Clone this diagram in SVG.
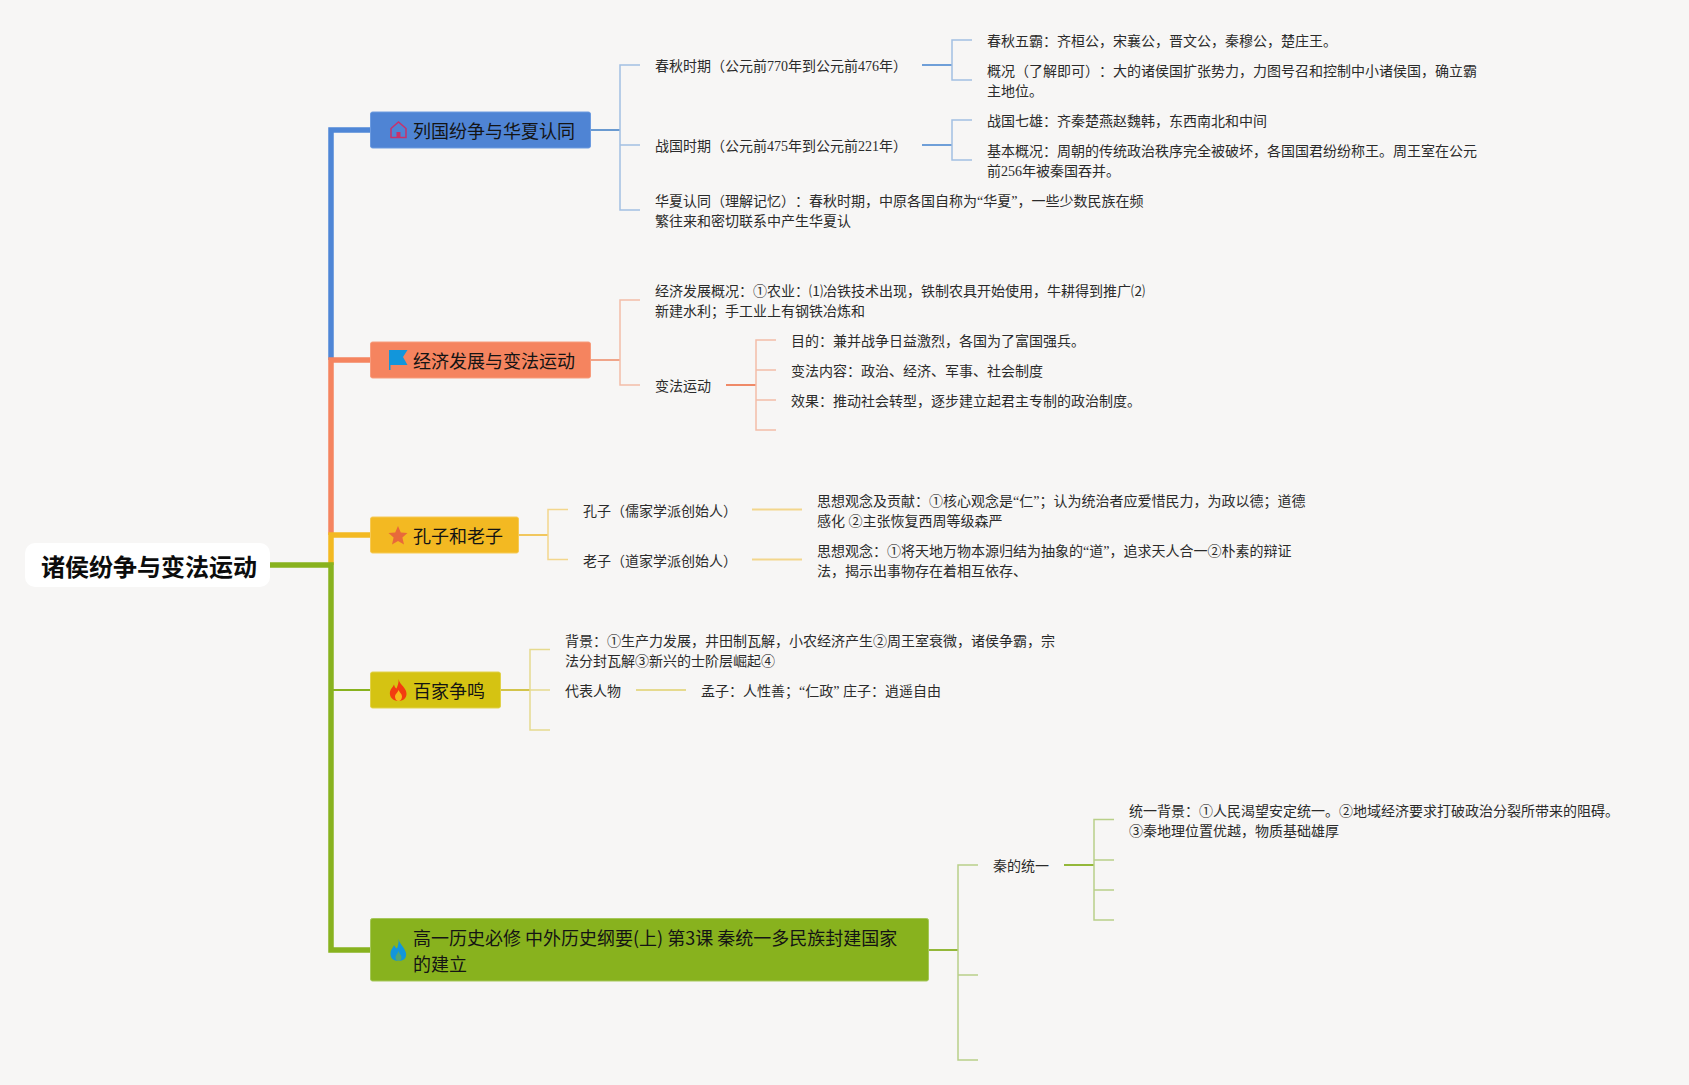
<svg xmlns="http://www.w3.org/2000/svg" width="1689" height="1085" viewBox="0 0 1689 1085">
<style>
text{font-family:"Liberation Serif","Noto Sans CJK SC",serif;fill:#2b2b2b;font-size:14px;text-spacing-trim:space-all}
.n{font-family:"Noto Sans CJK SC","Noto Sans",sans-serif;font-size:18px;fill:#141414}
.r{font-family:"Noto Sans CJK SC","Noto Sans",sans-serif;font-size:24px;font-weight:700;fill:#0c0c0c}
.c{fill:none;stroke-linejoin:miter}
.t{stroke-width:5.5}
.b{stroke-width:2}
.s{stroke-width:1.5}
.box{stroke-width:1}
</style>
<rect width="1689" height="1085" fill="#f7f6f5"/>
<g id="connectors" class="c">
<path class="t" stroke="#4f86d6" d="M370 130H331V360"/>
<path class="t" stroke="#f5845f" d="M370 360H331V535"/>
<path class="t" stroke="#f3b922" d="M370 535H331V565"/>
<path class="t" stroke="#88b21e" d="M270 565H331V950H370"/>
<path class="t" stroke="#88b21e" d="M331 690H370" style="stroke-width:2"/>

<path class="b" stroke="#6a9ad0" d="M590 130H620"/>
<path class="s" stroke="#a3c0e2" d="M640 65H620V210H640M620 145H640"/>
<path class="b" stroke="#6f9fd8" d="M922 65H952M922 145H952"/>
<path class="s" stroke="#a3c0e2" d="M972 40H952V80H972M972 120H952V160H972"/>

<path class="b" stroke="#f0a58a" d="M590 360H620"/>
<path class="s" stroke="#f3bda8" d="M640 300H620V385H640"/>
<path class="b" stroke="#ef8a68" d="M726 385H756"/>
<path class="s" stroke="#f3bda8" d="M776 340H756V430H776M756 370H776M756 400H776"/>

<path class="b" stroke="#f1c75e" d="M518 535H548"/>
<path class="s" stroke="#f3d68c" d="M568 509.500H548V559.500H568"/>
<path class="b" stroke="#f3d68c" d="M752 509.500H802M752 559.500H802"/>

<path class="b" stroke="#d3c44a" d="M500 690H530"/>
<path class="s" stroke="#e6da8e" d="M550 649.500H530V730H550M530 690H550"/>
<path class="b" stroke="#e6da8e" d="M636 690H686"/>

<path class="b" stroke="#94b83a" d="M928 950H958"/>
<path class="s" stroke="#b9d089" d="M978 865H958V1060H978M958 975H978"/>
<path class="b" stroke="#94b83a" d="M1064 865H1094"/>
<path class="s" stroke="#b9d089" d="M1114 819.500H1094V920H1114M1094 860H1114M1094 890H1114"/>
</g>

<g id="root">
<rect x="25" y="543" width="245" height="44" rx="10" fill="#ffffff"/>
<text class="r" x="41" y="576">诸侯纷争与变法运动</text>
</g>

<g id="node-lieguo">
<rect class="box" x="370.500" y="112" width="220" height="36" rx="2" fill="#4f84d4" stroke="#6c9be0"/>
<path d="M391 128.500L398.500 122L406 128.500V137.500H391Z" fill="none" stroke="#c9316a" stroke-width="1.500"/>
<rect x="396.500" y="132" width="4" height="5.500" fill="#c9316a"/>
<text class="n" x="413" y="138">列国纷争与华夏认同</text>
</g>
<g id="node-jingji">
<rect class="box" x="370.500" y="342" width="220" height="36" rx="2" fill="#f5845f" stroke="#f79c7d"/>
<path d="M389 350H407.500L403 357L407.500 365H390.500V370H389Z" fill="#1296db"/>
<text class="n" x="413" y="368">经济发展与变法运动</text>
</g>
<g id="node-kongzi">
<rect class="box" x="370.500" y="517" width="148" height="36" rx="2" fill="#f3b922" stroke="#f6ca56"/>
<path d="M398 526L400.800 532.500L407.500 533.100L402.400 537.600L404 544.500L398 540.900L392 544.500L393.600 537.600L388.500 533.100L395.200 532.500Z" fill="#e8693a"/>
<text class="n" x="413" y="543">孔子和老子</text>
</g>
<g id="node-baijia">
<rect class="box" x="370.500" y="672" width="130" height="36" rx="2" fill="#d5c312" stroke="#e1d24a"/>
<path d="M398.500 679C399.500 684 404 686 406 691C408 697 404 701 398.500 701C393 701 389 697 390 691.500C391 688 393 687 394 684.500C394.500 687 395.500 688 396.500 688.500C397.500 686 399 683 398.500 679Z" fill="#f23c10"/>
<path d="M398.500 690C400 693 402 694 402 696.500C402 699 400.500 701 398.500 701C396.500 701 395 699 395 696.500C395 694 397.500 693 398.500 690Z" fill="#f7b91a"/>
<text class="n" x="413" y="698">百家争鸣</text>
</g>
<g id="node-gaoyi">
<rect class="box" x="370.500" y="918.500" width="558" height="62.500" rx="2" fill="#88b21e" stroke="#a5c75a"/>
<path d="M398.500 939C399.500 944 404.500 947 406 953C407 958 403.500 961 398.500 961C393.500 961 390 958 390.500 953C391 949 393 948 394 945C395 947 396 948 397 948.500C398 946 399 942 398.500 939Z" fill="#1296db"/>
<path d="M398.500 951C399.500 954 401.500 955 401.500 957.500C401.500 959.500 400 961 398.500 961C397 961 395.500 959.500 395.500 957.500C395.500 955 397.500 954 398.500 951Z" fill="#88b21e" opacity=".55"/>
<text class="n" x="413" y="945">高一历史必修 中外历史纲要(上) 第3课 秦统一多民族封建国家</text>
<text class="n" x="413" y="971">的建立</text>
</g>

<g id="t1-chunqiu"><text x="655" y="71">春秋时期（公元前770年到公元前476年）</text></g>
<g id="t1-wuba"><text x="987" y="46">春秋五霸：齐桓公，宋襄公，晋文公，秦穆公，楚庄王。</text></g>
<g id="t1-gaikuang"><text x="987" y="76">概况（了解即可）：大的诸侯国扩张势力，力图号召和控制中小诸侯国，确立霸</text><text x="987" y="96">主地位。</text></g>
<g id="t1-zhanguo"><text x="655" y="151">战国时期（公元前475年到公元前221年）</text></g>
<g id="t1-qixiong"><text x="987" y="126">战国七雄：齐秦楚燕赵魏韩，东西南北和中间</text></g>
<g id="t1-jiben"><text x="987" y="156">基本概况：周朝的传统政治秩序完全被破坏，各国国君纷纷称王。周王室在公元</text><text x="987" y="176">前256年被秦国吞并。</text></g>
<g id="t1-huaxia"><text x="655" y="206">华夏认同（理解记忆）：春秋时期，中原各国自称为“华夏”，一些少数民族在频</text><text x="655" y="226">繁往来和密切联系中产生华夏认</text></g>

<g id="t2-fazhan"><text x="655" y="296">经济发展概况：①农业：⑴冶铁技术出现，铁制农具开始使用，牛耕得到推广⑵</text><text x="655" y="316">新建水利；手工业上有钢铁冶炼和</text></g>
<g id="t2-bianfa"><text x="655" y="391">变法运动</text></g>
<g id="t2-mudi"><text x="791" y="346">目的：兼并战争日益激烈，各国为了富国强兵。</text></g>
<g id="t2-neirong"><text x="791" y="376">变法内容：政治、经济、军事、社会制度</text></g>
<g id="t2-xiaoguo"><text x="791" y="406">效果：推动社会转型，逐步建立起君主专制的政治制度。</text></g>

<g id="t3-kongzi"><text x="583" y="516">孔子（儒家学派创始人）</text></g>
<g id="t3-kongzi-d"><text x="817" y="506">思想观念及贡献：①核心观念是“仁”；认为统治者应爱惜民力，为政以德；道德</text><text x="817" y="526">感化 ②主张恢复西周等级森严</text></g>
<g id="t3-laozi"><text x="583" y="566">老子（道家学派创始人）</text></g>
<g id="t3-laozi-d"><text x="817" y="556">思想观念：①将天地万物本源归结为抽象的“道”，追求天人合一②朴素的辩证</text><text x="817" y="576">法，揭示出事物存在着相互依存、</text></g>

<g id="t4-beijing"><text x="565" y="646">背景：①生产力发展，井田制瓦解，小农经济产生②周王室衰微，诸侯争霸，宗</text><text x="565" y="666">法分封瓦解③新兴的士阶层崛起④</text></g>
<g id="t4-daibiao"><text x="565" y="696">代表人物</text></g>
<g id="t4-mengzi"><text x="701" y="696">孟子：人性善；“仁政” 庄子：逍遥自由</text></g>

<g id="t5-qin"><text x="993" y="871">秦的统一</text></g>
<g id="t5-beijing"><text x="1129" y="816">统一背景：①人民渴望安定统一。②地域经济要求打破政治分裂所带来的阻碍。</text><text x="1129" y="836">③秦地理位置优越，物质基础雄厚</text></g>
</svg>
